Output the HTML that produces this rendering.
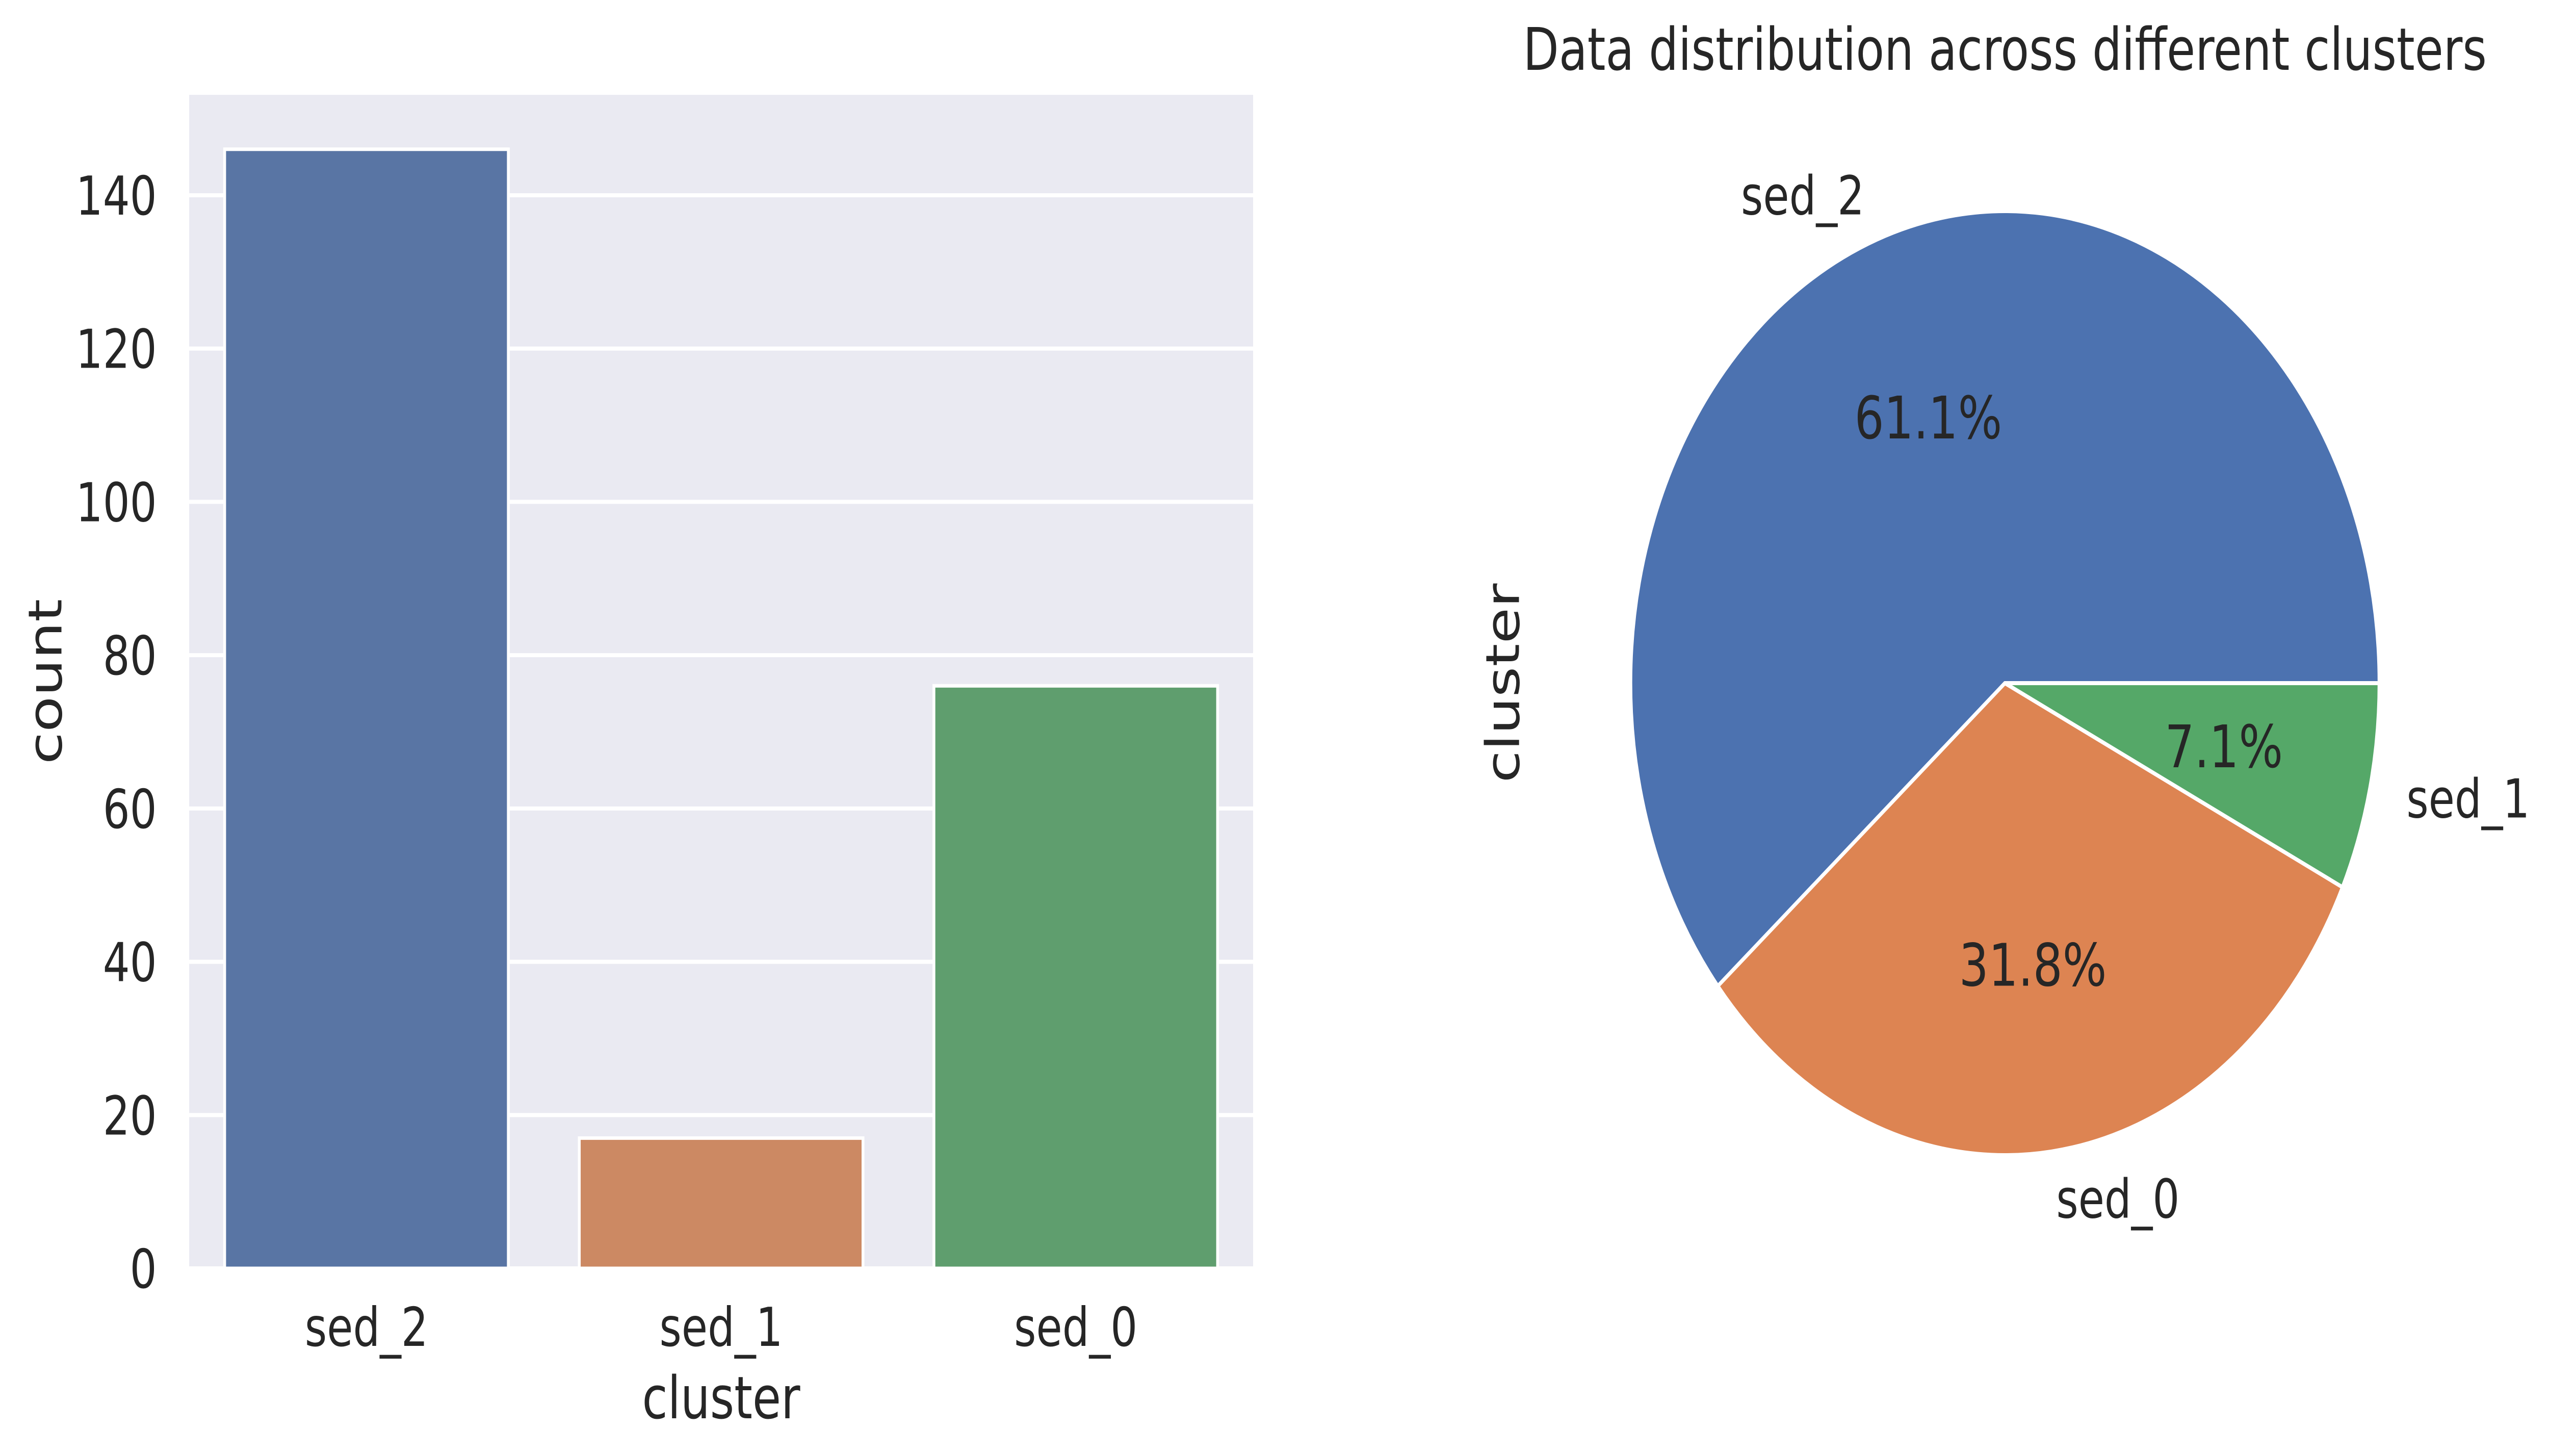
<!DOCTYPE html>
<html><head><meta charset="utf-8"><style>
html,body{margin:0;padding:0;background:#fff;overflow:hidden;width:100vw;height:100vh;}
svg{display:block;width:100vw;height:100vh;font-family:"DejaVu Sans","Liberation Sans",sans-serif;}
</style></head><body>
<svg id="fig" viewBox="0 0 6306 2856" preserveAspectRatio="none" xmlns="http://www.w3.org/2000/svg">
<rect width="6306" height="2856" fill="#fff"/>
<g id="bar"></g>
<g id="pie"></g>
</svg>
<script>
const barCategories = ["sed_2", "sed_1", "sed_0"];
const barCounts = [146, 17, 76];
const yTicks = [0, 20, 40, 60, 80, 100, 120, 140];
const pieLabels = ["sed_2", "sed_0", "sed_1"];
const pieValues = [146, 76, 17];

const NS = "http://www.w3.org/2000/svg";
function mk(tag, attrs, parent, text) {
  const e = document.createElementNS(NS, tag);
  for (const k in attrs) e.setAttribute(k, attrs[k]);
  if (text !== undefined) e.textContent = text;
  parent.appendChild(e);
  return e;
}
const bar = document.getElementById('bar');
const AX = {l: 468, r: 3100, t: 186, b: 2488};
const yMax = 153.1;
const ys = v => AX.b - v / yMax * (AX.b - AX.t);
const bandW = (AX.r - AX.l) / barCategories.length;
const xc = i => AX.l + bandW * (i + 0.5);

let bg = mk('rect', {x: AX.l, y: AX.t, width: AX.r - AX.l, height: AX.b - AX.t, fill: '#eaeaf2'}, bar);


yTicks.forEach(t => {
  const y = ys(t);
  const g = mk('line', {x1: AX.l, x2: AX.r, y1: y, y2: y, stroke: '#fff', 'stroke-width': 8}, bar);
  
  
  const tl = mk('text', {x: 388, y: y + 38, 'text-anchor': 'end', 'font-size': 105, fill: '#262626'}, bar, String(t));
  
  
});
const colors = ['#5975a4', '#cc8963', '#5f9e6e'];
barCategories.forEach((c, i) => {
  const w = bandW * 0.8;
  const r = mk('rect', {x: xc(i) - w / 2, y: ys(barCounts[i]), width: w, height: AX.b - ys(barCounts[i]), fill: colors[i], stroke: '#fff', 'stroke-width': 7}, bar);
  
  
  const tl = mk('text', {x: xc(i), y: 2640, 'text-anchor': 'middle', 'font-size': 105, fill: '#262626'}, bar, c);
  
  
});
let xl = mk('text', {x: (AX.l + AX.r) / 2, y: 2782, 'text-anchor': 'middle', 'font-size': 115, fill: '#262626'}, bar, 'cluster');


let yl = mk('text', {x: 0, y: 0, transform: 'translate(152,1337) rotate(-90)', 'text-anchor': 'middle', 'font-size': 115, fill: '#262626'}, bar, 'count');



// pie
const pie = document.getElementById('pie');
const cx = 4960, cy = 1340, R = 926;
const pcols = ['#4c72b0', '#dd8452', '#55a868'];
const total = pieValues.reduce((a, b) => a + b, 0);
let a0 = 0;
pieValues.forEach((v, i) => {
  const a1 = a0 + v / total * 360;
  const rad = d => d * Math.PI / 180;
  const x0 = cx + R * Math.cos(rad(a0)), y0 = cy - R * Math.sin(rad(a0));
  const x1 = cx + R * Math.cos(rad(a1)), y1 = cy - R * Math.sin(rad(a1));
  const large = (a1 - a0) > 180 ? 1 : 0;
  const p = mk('path', {d: `M${cx},${cy} L${x0},${y0} A${R},${R} 0 ${large} 0 ${x1},${y1} Z`, fill: pcols[i], stroke: '#fff', 'stroke-width': 8, 'stroke-linejoin': 'round'}, pie);
  
  
  const m = rad((a0 + a1) / 2);
  const lx = cx + 1.1 * R * Math.cos(m), ly = cy - 1.1 * R * Math.sin(m);
  const lab = mk('text', {x: lx, y: ly + 38, 'text-anchor': Math.cos(m) >= 0 ? 'start' : 'end', 'font-size': 105, fill: '#262626'}, pie, pieLabels[i]);
  
  
  const px = cx + 0.6 * R * Math.cos(m), py = cy - 0.6 * R * Math.sin(m);
  const pct = mk('text', {x: px, y: py + 42, 'text-anchor': 'middle', 'font-size': 115, fill: '#262626'}, pie, (v / total * 100).toFixed(1) + '%');
  
  
  a0 = a1;
});
let tt = mk('text', {x: cx, y: 137, 'text-anchor': 'middle', 'font-size': 115, fill: '#262626'}, pie, 'Data distribution across different clusters');


let pl = mk('text', {x: 0, y: 0, transform: 'translate(3758,1340) rotate(-90)', 'text-anchor': 'middle', 'font-size': 115, fill: '#262626'}, pie, 'cluster');


</script>
</body></html>
